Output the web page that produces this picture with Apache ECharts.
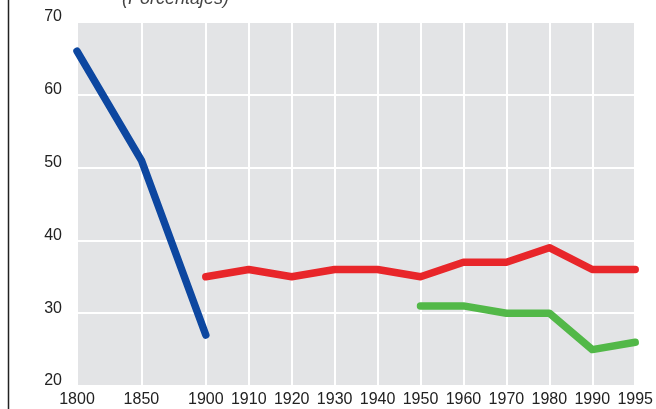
<!DOCTYPE html>
<html>
<head>
<meta charset="utf-8">
<script src="https://cdn.jsdelivr.net/npm/echarts@6/dist/echarts.min.js"></script>
<style>
  html, body { margin: 0; padding: 0; background: #fff; }
  #chart { width: 656px; height: 409px; }
</style>
</head>
<body>
<div id="chart"></div>
<script>
// años del eje X
var years = ['1800', '1850', '1900', '1910', '1920', '1930', '1940', '1950', '1960', '1970', '1980', '1990', '1995'];
// series (porcentajes), null = sin dato
var blueValues  = [66, 51, 27, null, null, null, null, null, null, null, null, null, null];
var redValues   = [null, null, 35, 36, 35, 36, 36, 35, 37, 37, 39, 36, 36];
var greenValues = [null, null, null, null, null, null, null, 31, 31, 30, 30, 25, 26];
var yTicks = [20, 30, 40, 50, 60, 70];

// el gráfico original no es lineal: los saltos de 50 años ocupan 3 huecos, el resto 2
var slotOf = [];
var slots = [];
var pos = 0;
for (var i = 0; i < years.length; i++) {
    if (i > 0) {
        var gap = years[i] - years[i - 1];
        pos += gap >= 50 ? 3 : 2;
    }
    slotOf.push(pos);
}
for (var s = 0; s <= pos; s++) slots.push('');
for (var i = 0; i < years.length; i++) slots[slotOf[i]] = years[i];

function toPairs(values) {
    var arr = [];
    for (var i = 0; i < values.length; i++) {
        if (values[i] != null) arr.push([slotOf[i], values[i]]);
    }
    return arr;
}

function isYear(index) {
    return slots[index] !== '';
}

var myChart = echarts.init(document.getElementById('chart'));

var lineStyle = function (color) {
    return { color: color, width: 7.5, cap: 'round', join: 'round' };
};

myChart.setOption({
    animation: false,
    grid: {
        left: 77, right: 19, top: 22, bottom: 23,
        show: true,
        backgroundColor: '#e3e4e6',
        borderWidth: 0
    },
    graphic: [
        {
            type: 'line',
            shape: { x1: 8.5, y1: 0, x2: 8.5, y2: 409 },
            style: { stroke: '#222', lineWidth: 1.5 }
        },
        {
            type: 'text',
            left: 122,
            top: -10,
            style: {
                text: '(Porcentajes)',
                font: 'italic 18px "Liberation Sans", Arial, sans-serif',
                fill: '#444'
            }
        }
    ],
    xAxis: {
        type: 'category',
        data: slots,
        boundaryGap: false,
        axisLine: { show: false },
        axisTick: { show: false },
        axisLabel: {
            interval: function (index) { return isYear(index); },
            color: '#222',
            fontSize: 16,
            fontFamily: 'Liberation Sans',
            margin: 6
        },
        splitLine: {
            show: true,
            interval: function (index) { return isYear(index); },
            lineStyle: { color: '#fff', width: 2 }
        }
    },
    yAxis: {
        type: 'value',
        min: yTicks[0],
        max: yTicks[yTicks.length - 1],
        interval: 10,
        axisLine: { show: false },
        axisTick: { show: false },
        axisLabel: {
            color: '#222',
            fontSize: 16,
            fontFamily: 'Liberation Sans',
            margin: 15,
            verticalAlign: 'bottom',
            lineHeight: 10
        },
        splitLine: {
            show: true,
            lineStyle: { color: '#fff', width: 2 }
        }
    },
    series: [
        {
            name: 'azul',
            type: 'line',
            symbol: 'none',
            data: toPairs(blueValues),
            lineStyle: lineStyle('#0d47a0')
        },
        {
            name: 'rojo',
            type: 'line',
            symbol: 'none',
            data: toPairs(redValues),
            lineStyle: lineStyle('#e8262a')
        },
        {
            name: 'verde',
            type: 'line',
            symbol: 'none',
            data: toPairs(greenValues),
            lineStyle: lineStyle('#52b848')
        }
    ]
});
</script>
</body>
</html>
